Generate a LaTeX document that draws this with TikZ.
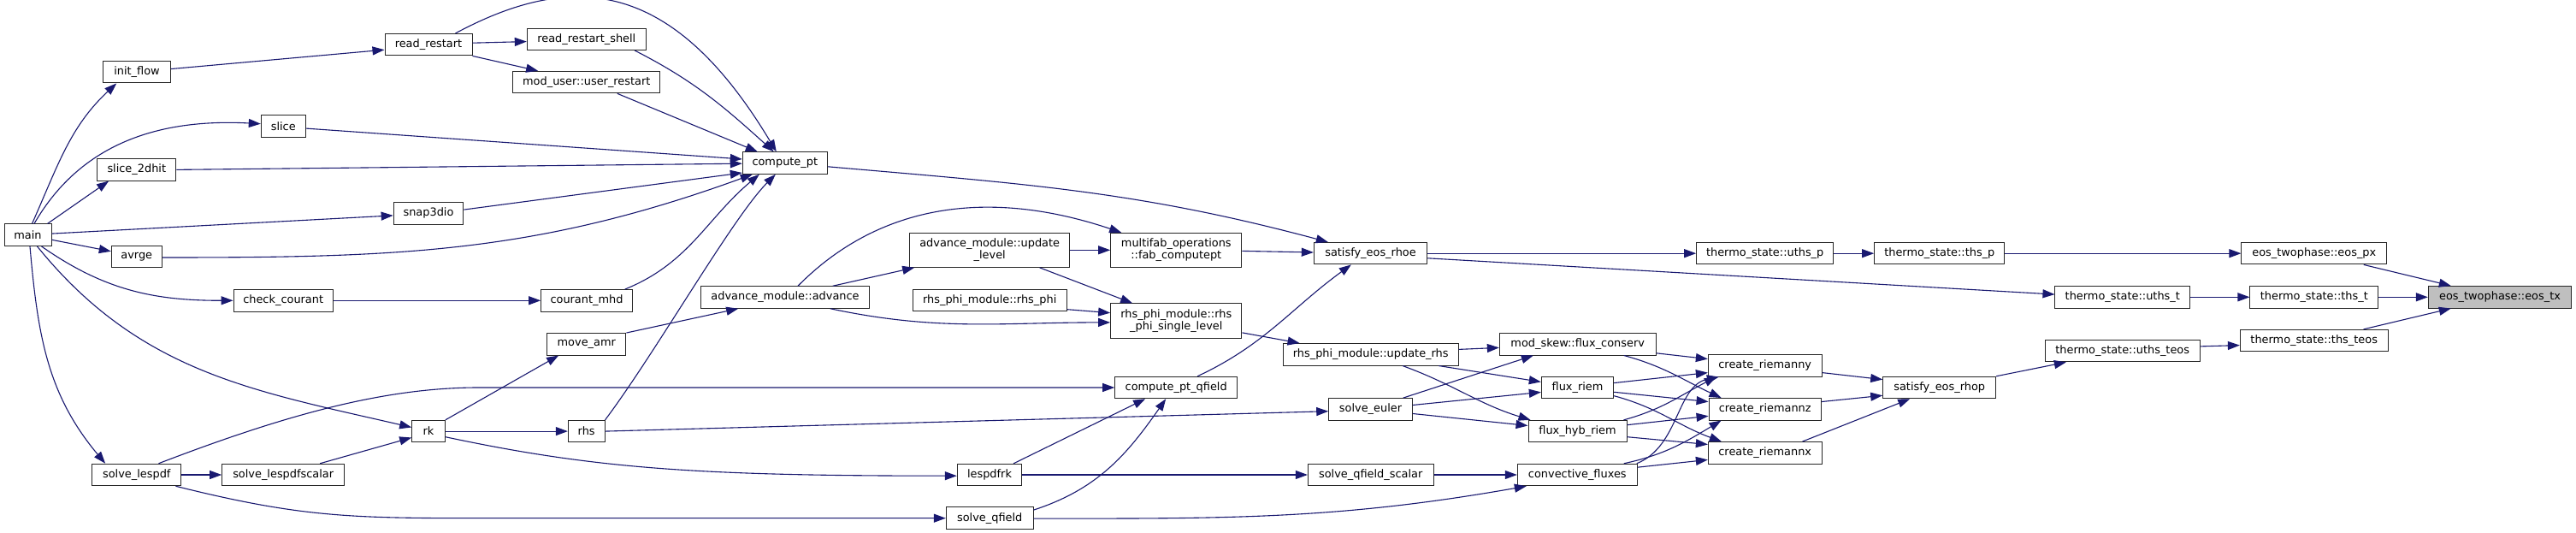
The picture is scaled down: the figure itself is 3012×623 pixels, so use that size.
\documentclass[tikz,border=0pt]{standalone}
\usepackage{fontspec}
\setmainfont{DejaVu Sans}
\usepackage{tikz}
\usetikzlibrary{arrows.meta}
\definecolor{navy}{HTML}{191970}

\begin{document}
\begin{tikzpicture}[
  x=1pt, y=1pt,
  fn/.style={
    draw=black!85, fill=white, line width=1pt, inner sep=0pt,
    minimum height=25.5pt, align=center, font=\fontsize{12.9}{14}\selectfont
  },
  fntwo/.style={fn, minimum height=40pt},
  cur/.style={fn, fill=black!25},
  call/.style={
    -{Triangle[length=14pt, width=10pt]},
    draw=navy, line width=1.1pt
  }
]
\useasboundingbox[fill=white] (0,-1.7) rectangle (3012,621.3);

% ----- callers, left part -----
\node[fn, minimum width=55]    (main)      at (32.5,346.6) {main};
\node[fn, minimum width=78.6]  (initflow)  at (160,537.1)  {init\_flow};
\node[fn, minimum width=92.3]  (slicehit)  at (159.8,422.9) {slice\_2dhit};
\node[fn, minimum width=59]    (avrge)     at (159.8,321.1) {avrge};
\node[fn, minimum width=104.3] (lespdf)    at (159.8,66.3) {solve\_lespdf};
\node[fn, minimum width=52]    (slice)     at (331.3,473.6) {slice};
\node[fn, minimum width=116.3] (checkcour) at (331.2,270)  {check\_courant};
\node[fn, minimum width=143]   (lespdfsc)  at (331.2,66.3) {solve\_lespdfscalar};
\node[fn, minimum width=102]   (readrst)   at (501,569.1)  {read\_restart};
\node[fn, minimum width=81.7]  (snapdio)   at (501,372)    {snap3dio};
\node[fn, minimum width=38.6]  (rk)        at (501,117.2)  {rk};
\node[fn, minimum width=139]   (rstshell)  at (685.8,575.5) {read\_restart\_shell};
\node[fn, minimum width=172.3] (userrst)   at (685.8,525.2) {mod\_user::user\_restart};
\node[fn, minimum width=106.6] (courmhd)   at (686,270)    {courant\_mhd};
\node[fn, minimum width=92.3]  (moveamr)   at (685.8,219)  {move\_amr};
\node[fn, minimum width=42.7]  (rhs)       at (685.7,117.2) {rhs};
\node[fn, minimum width=99]    (computept) at (917.8,430.7) {compute\_pt};
\node[fn, minimum width=196.6] (advance)   at (918,273.8)  {advance\_module::advance};

% ----- middle part -----
\node[fntwo, minimum width=187]  (updlevel)  at (1157.2,329) {advance\_module::update\\\_level};
\node[fn, minimum width=180.3]   (rhsphi)    at (1157.2,270.2) {rhs\_phi\_module::rhs\_phi};
\node[fn, minimum width=75.4]    (lespdfrk)  at (1157,66.3)  {lespdfrk};
\node[fn, minimum width=101.7]   (qfield)    at (1157.2,15.6) {solve\_qfield};
\node[fntwo, minimum width=153.3] (fabpt)    at (1375.3,329) {multifab\_operations\\::fab\_computept};
\node[fntwo, minimum width=153.3, minimum height=40.8] (phisingle) at (1375.3,246)
  {rhs\_phi\_module::rhs\\\_phi\_single\_level};
\node[fn, minimum width=143]     (ptqfield)  at (1375.2,168.3) {compute\_pt\_qfield};
\node[fn, minimum width=132.4]   (eosrhoe)   at (1602.5,325.1) {satisfy\_eos\_rhoe};
\node[fn, minimum width=205.3]   (updrhs)    at (1602.7,207) {rhs\_phi\_module::update\_rhs};
\node[fn, minimum width=97.6]    (euler)     at (1602.5,143) {solve\_euler};
\node[fn, minimum width=146.7]   (qfieldsc)  at (1602.7,66.3) {solve\_qfield\_scalar};
\node[fn, minimum width=182.7]   (fluxcons)  at (1844.7,219) {mod\_skew::flux\_conserv};
\node[fn, minimum width=84.4]    (fluxriem)  at (1844.5,168.3) {flux\_riem};
\node[fn, minimum width=115]     (fluxhyb)   at (1844.5,117.2) {flux\_hyb\_riem};
\node[fn, minimum width=140]     (convflux)  at (1844.3,66.3) {convective\_fluxes};

% ----- right part -----
\node[fn, minimum width=160]   (uthsp)    at (2063.7,325.1) {thermo\_state::uths\_p};
\node[fn, minimum width=132.7] (riemy)    at (2063.7,194)   {create\_riemanny};
\node[fn, minimum width=131.3] (riemz)    at (2063.7,143)   {create\_riemannz};
\node[fn, minimum width=132.7] (riemx)    at (2063.7,92)    {create\_riemannx};
\node[fn, minimum width=152.3] (thsp)     at (2267.8,325.1) {thermo\_state::ths\_p};
\node[fn, minimum width=132]   (eosrhop)  at (2267.7,168.3) {satisfy\_eos\_rhop};
\node[fn, minimum width=157.7] (uthst)    at (2481.8,274)   {thermo\_state::uths\_t};
\node[fn, minimum width=180.7] (uthsteos) at (2481.7,211.2) {thermo\_state::uths\_teos};
\node[fn, minimum width=169.7] (eospx)    at (2705.8,325.1) {eos\_twophase::eos\_px};
\node[fn, minimum width=149.7] (thst)     at (2705.8,274)   {thermo\_state::ths\_t};
\node[fn, minimum width=172.7] (thsteos)  at (2705.7,223.2) {thermo\_state::ths\_teos};
\node[cur, minimum width=167.4] (eostx)   at (2923,274)     {eos\_twophase::eos\_tx};

% ----- calls from main -----
\draw[call] ([xshift=5]main.north) to[out=66,in=223] ([xshift=16]initflow.south west);
\draw[call] ([xshift=7.5]main.north) to[out=60,in=177] ([yshift=3]slice.west);
\draw[call] ([xshift=-5]main.north east) -- ([xshift=14]slicehit.south west);
\draw[call] ([yshift=1.6]main.east) -- ([yshift=-2.6]snapdio.west);
\draw[call] ([yshift=-5.6]main.east) -- ([yshift=6.4]avrge.west);
\draw[call] ([xshift=16]main.south) to[out=-35,in=180] (checkcour.west);
\draw[call] ([xshift=11]main.south) to[out=-51,in=167] ([yshift=4.6]rk.west);
\draw[call] ([xshift=2.5]main.south) to[out=-85,in=130] ([xshift=16]lespdf.north west);

% ----- into compute_pt -----
\draw[call] ([yshift=3.6]initflow.east) -- ([yshift=-6]readrst.west);
\draw[call] ([yshift=2]readrst.east) -- ([yshift=-2.8]rstshell.west);
\draw[call] (readrst.south east) -- ([xshift=30]userrst.north west);
\draw[call] ([xshift=-20]readrst.north east) .. controls +(140,75) and +(-120,200) .. ([xshift=-10]computept.north);
\draw[call] ([xshift=-13.6]rstshell.south east) to[out=-27,in=138] ([xshift=-13]computept.north);
\draw[call] ([xshift=36]userrst.south) -- ([xshift=18]computept.north west);
\draw[call] ([yshift=-2.4]slice.east) -- ([yshift=4.6]computept.west);
\draw[call] (slicehit.east) -- ([yshift=-0.6]computept.west);
\draw[call] ([yshift=4.2]snapdio.east) -- ([yshift=-11.4]computept.west);
\draw[call] ([yshift=-0.8]avrge.east) to[out=0,in=200] ([xshift=12]computept.south west);
\draw[call] (checkcour.east) -- (courmhd.west);
\draw[call] ([xshift=-9]courmhd.north east) to[out=22,in=220] ([xshift=20]computept.south west);
\draw[call] (rhs.north east) .. controls +(60,80) and +(-50,-50) .. ([xshift=-11]computept.south);

% ----- lower left -----
\draw[call] (lespdf.east) -- (lespdfsc.west);
\draw[call] ([xshift=-29]lespdfsc.north east) -- ([yshift=-7.4]rk.west);
\draw[call] ([xshift=-27]lespdf.north east) .. controls +(21:160) and +(180:110) .. (560,168.3) -- (ptqfield.west);
\draw[call] ([xshift=-7]lespdf.south east) .. controls +(-14:150) and +(180:150) .. (560,15.6) -- (qfield.west);
\draw[call] (rk.north east) -- ([xshift=14]moveamr.south west);
\draw[call] (rk.east) -- (rhs.west);
\draw[call] ([yshift=-6.6]rk.east) .. controls +(-12:180) and +(180:300) .. ([yshift=-1.2]lespdfrk.west);
\draw[call] (moveamr.north east) -- ([xshift=44]advance.south west);
\draw[call] (rhs.east) -- ([yshift=-2.4]euler.west);

% ----- advance and rhs_phi -----
\draw[call] ([xshift=-43]advance.north east) -- ([xshift=6]updlevel.south west);
\draw[call] ([xshift=15]advance.north) .. controls +(97,98) and +(-152,51) .. ([xshift=13]fabpt.north west);
\draw[call] ([xshift=-46]advance.south east) to[out=-12,in=180] ([yshift=-1.6]phisingle.west);
\draw[call] (updlevel.east) -- (fabpt.west);
\draw[call] ([xshift=-35.7]updlevel.south east) -- ([xshift=26]phisingle.north west);
\draw[call] ([yshift=-10.6]rhsphi.east) -- ([yshift=9.6]phisingle.west);
\draw[call] ([yshift=-1.1]fabpt.east) -- ([yshift=1.2]eosrhoe.west);
\draw[call] ([yshift=-4.2]computept.east) to[out=-5,in=165] ([xshift=17]eosrhoe.north west);
\draw[call] ([xshift=25]ptqfield.north) to[out=25,in=216] ([xshift=44]eosrhoe.south west);
\draw[call] ([yshift=-13.6]phisingle.east) -- ([xshift=20]updrhs.north west);
\draw[call] ([xshift=-10]lespdfrk.north east) -- ([xshift=36]ptqfield.south west);
\draw[call] ([yshift=9.6]qfield.east) to[out=18,in=235] ([xshift=-12]ptqfield.south);
\draw[call] (lespdfrk.east) -- (qfieldsc.west);
\draw[call] ([yshift=-0.4]qfield.east) to[out=0,in=190] ([xshift=11]convflux.south west);

% ----- fluxes -----
\draw[call] (eosrhoe.east) -- (uthsp.west);
\draw[call] ([yshift=-5.6]eosrhoe.east) -- ([yshift=3.2]uthst.west);
\draw[call] ([yshift=5.9]updrhs.east) -- ([yshift=-4.1]fluxcons.west);
\draw[call] ([xshift=-23.6]updrhs.south east) -- ([yshift=6.6]fluxriem.west);
\draw[call] ([xshift=37.3]updrhs.south) to[out=-20,in=163] ([xshift=3]fluxhyb.north west);
\draw[call] ([xshift=-11]euler.north east) -- ([xshift=40]fluxcons.south west);
\draw[call] ([yshift=4.8]euler.east) -- ([yshift=-5.4]fluxriem.west);
\draw[call] ([yshift=-5.2]euler.east) -- ([yshift=6.6]fluxhyb.west);
\draw[call] (qfieldsc.east) -- (convflux.west);

% ----- riemann solvers -----
\draw[call] ([yshift=-10.5]fluxcons.east) -- ([yshift=7.7]riemy.west);
\draw[call] ([xshift=-37.7]fluxcons.south east) to[out=-15,in=155] ([xshift=15]riemz.north west);
\draw[call] ([yshift=5.4]fluxriem.east) -- ([yshift=-8.3]riemy.west);
\draw[call] ([yshift=-5.3]fluxriem.east) -- ([yshift=8.75]riemz.west);
\draw[call] ([yshift=-9.7]fluxriem.east) to[out=-15,in=160] ([xshift=16]riemx.north west);
\draw[call] ([xshift=-4]fluxhyb.north east) to[out=15,in=207] ([xshift=10]riemy.south west);
\draw[call] ([yshift=7.4]fluxhyb.east) -- ([yshift=-8]riemz.west);
\draw[call] ([yshift=-6.6]fluxhyb.east) -- ([yshift=9.8]riemx.west);
\draw[call] ([xshift=-1]convflux.north east) .. controls +(50,20) and +(-50,-10) .. ([xshift=13]riemy.south west);
\draw[call] ([xshift=-16]convflux.north east) to[out=12,in=211] ([xshift=15]riemz.south west);
\draw[call] ([yshift=8.8]convflux.east) -- ([yshift=-8.1]riemx.west);

% ----- thermo state chain -----
\draw[call] ([yshift=-8.3]riemy.east) -- ([yshift=9.4]eosrhop.west);
\draw[call] ([yshift=8.75]riemz.east) -- ([yshift=-9.3]eosrhop.west);
\draw[call] ([xshift=-23]riemx.north east) -- ([xshift=32]eosrhop.south west);
\draw[call] (uthsp.east) -- (thsp.west);
\draw[call] (thsp.east) -- (eospx.west);
\draw[call] (eosrhop.north east) -- ([xshift=25]uthsteos.south west);
\draw[call] (uthst.east) -- (thst.west);
\draw[call] ([yshift=5.2]uthsteos.east) -- ([yshift=-5.5]thsteos.west);
\draw[call] ([xshift=-27.4]eospx.south east) -- ([xshift=27]eostx.north west);
\draw[call] (thst.east) -- (eostx.west);
\draw[call] ([xshift=-29]thsteos.north east) -- ([xshift=27]eostx.south west);

\end{tikzpicture}
\end{document}
